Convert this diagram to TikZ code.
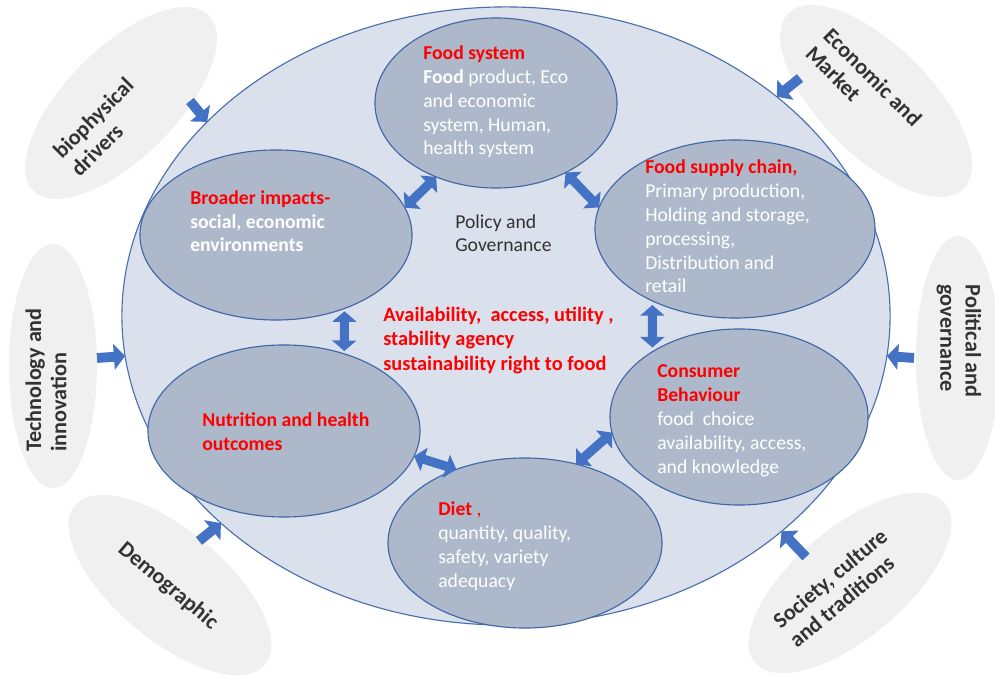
\documentclass[tikz,border=0pt]{standalone}
\usepackage{fontspec}
\setmainfont{Carlito}
\usetikzlibrary{shapes.geometric,arrows.meta}

\definecolor{ringfill}{HTML}{DAE1EC}
\definecolor{ringline}{HTML}{4A6FAE}
\definecolor{partfill}{HTML}{ADB9CA}
\definecolor{partline}{HTML}{3F66A6}
\definecolor{drivfill}{HTML}{F0F0F0}
\definecolor{drivink}{HTML}{333333}
\definecolor{arrowblue}{HTML}{4472C4}
\definecolor{headred}{HTML}{FF0000}

\tikzset{
  drivoval/.style={ellipse, fill=drivfill, inner sep=0pt, outer sep=0pt,
    minimum width=6.2cm, minimum height=2.75cm},
  drivlabel/.style={text=drivink, align=left, inner sep=0pt,
    font=\bfseries\fontsize{15.8}{18}\selectfont},
  mainring/.style={ellipse, draw=ringline, fill=ringfill, line width=0.8pt,
    inner sep=0pt, outer sep=0pt},
  partoval/.style={ellipse, draw=partline, fill=partfill, line width=0.8pt,
    inner sep=0pt, outer sep=0pt},
  partlabel/.style={text=white, align=left, anchor=base west, inner sep=0pt,
    font=\fontsize{14}{17}\selectfont},
  pusharrow/.style={arrowblue, line width=7pt, -{Triangle[length=8pt,width=18pt]}},
  linkarrow/.style={arrowblue, line width=6.5pt,
    {Triangle[length=7.5pt,width=17pt]}-{Triangle[length=7.5pt,width=17pt]}},
}

\begin{document}
\begin{tikzpicture}[x=0.025cm,y=-0.025cm]
  \useasboundingbox (0,0) rectangle (995,676);

  % Drivers around the outside.
  \node[drivoval, rotate=45] (bio) at (121,103) {};
  \node[drivoval, rotate=-45] (econ) at (876,101) {};
  \node[drivoval, minimum width=2.2cm, minimum height=6.1cm] (tech) at (53,366) {};
  \node[drivoval, minimum width=2.1cm, minimum height=6.1cm] (pol) at (958,358) {};
  \node[drivoval, rotate=-40] (demo) at (170,585) {};
  \node[drivoval, rotate=40] (soc) at (850,583) {};

  \node[drivlabel, rotate=45] (biotxt) at (102,127) {biophysical\\drivers};
  \node[drivlabel, rotate=-45] (econtxt) at (864,86) {Economic and\\Market};
  \node[drivlabel, rotate=90] (techtxt) at (46,380) {Technology and\\innovation};
  \node[drivlabel, rotate=-90] (poltxt) at (959,341) {Political and\\governance};
  \node[drivlabel, rotate=-40] (demotxt) at (168,586) {Demographic};
  \node[drivlabel, rotate=40] (soctxt) at (838,588) {Society, culture\\and traditions};

  % The big ring.
  \node[mainring, minimum width=19.2cm, minimum height=15.45cm] (ring) at (506,316) {};

  % Six parts inside the ring.
  \node[partoval, minimum width=6.05cm, minimum height=4.25cm] (fs) at (496,103) {};
  \node[partoval, minimum width=7.0cm, minimum height=4.45cm] (sc) at (735,229) {};
  \node[partoval, minimum width=6.8cm, minimum height=4.25cm] (bi) at (276,235) {};
  \node[partoval, minimum width=6.8cm, minimum height=4.3cm] (nu) at (284,431) {};
  \node[partoval, minimum width=6.45cm, minimum height=4.4cm] (cb) at (739,417) {};
  \node[partoval, minimum width=6.85cm, minimum height=4.25cm] (di) at (525,543) {};

  % Drivers pushing in.
  \coordinate (bioin) at (190,101);
  \coordinate (econin) at (800,78);
  \coordinate (techin) at (97,358);
  \coordinate (polin) at (914,358);
  \coordinate (demoin) at (199,541);
  \coordinate (socin) at (806,557);
  \draw[pusharrow] (bioin) -- (ring.147);
  \draw[pusharrow] (econin) -- (ring.39);
  \draw[pusharrow] (techin) -- (ring.186);
  \draw[pusharrow] (polin) -- (ring.354);
  \draw[pusharrow] (demoin) -- (ring.216);
  \draw[pusharrow] (socin) -- (ring.322);

  % Two-way links between the parts.
  \draw[linkarrow] (bi.12) -- (fs.231);
  \draw[linkarrow] (fs.315) -- (sc.171);
  \draw[linkarrow, shorten <=2pt, shorten >=2pt] (bi.313) -- (nu.52);
  \draw[linkarrow, shorten <=3pt, shorten >=3pt] (sc.221) -- (cb.143);
  \draw[linkarrow] (nu.349) -- (di.133);
  \draw[linkarrow] (di.57) -- (cb.187);

  % Text of the parts, placed by the baseline of the last line.
  \node[partlabel] (fstxt) at (423,155)
    {\textcolor{headred}{\bfseries Food system}\\{\bfseries Food} product, Eco\\and economic\\system, Human,\\health system};
  \node[partlabel] (sctxt) at (645,293)
    {\textcolor{headred}{\bfseries Food supply chain,}\\Primary production,\\Holding and storage,\\processing,\\Distribution and\\retail};
  \node[partlabel, font=\bfseries\fontsize{14}{17}\selectfont] (bitxt) at (190,252)
    {\textcolor{headred}{Broader impacts-}\\social, economic\\environments};
  \node[partlabel, text=drivink] (govtxt) at (455,252) {Policy and\\Governance};
  \node[partlabel, text=headred, font=\bfseries\fontsize{14.5}{17.4}\selectfont] (goaltxt) at (383,370)
    {Availability,\ \ access, utility ,\\stability agency\\sustainability right to food};
  \node[partlabel] (cbtxt) at (657,473)
    {\textcolor{headred}{\bfseries Consumer}\\\textcolor{headred}{\bfseries Behaviour}\\food\ \ choice\\availability, access,\\and knowledge};
  \node[partlabel, text=headred, font=\bfseries\fontsize{14}{17}\selectfont] (nutxt) at (202,450)
    {Nutrition and health\\outcomes};
  \node[partlabel] (ditxt) at (438,587)
    {\textcolor{headred}{{\bfseries Diet} ,}\\quantity, quality,\\safety, variety\\adequacy};
\end{tikzpicture}
\end{document}
